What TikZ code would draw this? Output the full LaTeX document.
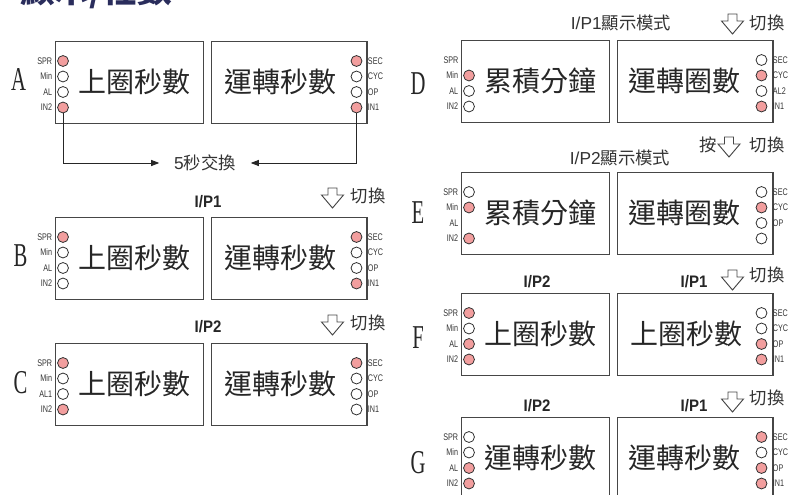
\documentclass[tikz,border=0pt]{standalone}
\usepackage{fontspec}
\usetikzlibrary{arrows.meta}
\newfontfamily\cjk{Noto Sans CJK TC}
\newfontfamily\latinsans{Liberation Sans}
\newfontfamily\ledfont{Liberation Sans}[FakeStretch=0.75]
\newfontfamily\ipfont{Liberation Sans}[FakeStretch=0.9]
\newfontfamily\rowfont{Liberation Serif}[FakeStretch=0.62]
\definecolor{ledred}{RGB}{242,158,158}
\definecolor{boxgray}{RGB}{70,70,70}
\definecolor{titlenavy}{RGB}{42,45,92}
\tikzset{
  panel/.style={draw=boxgray,line width=1pt,anchor=north west,inner sep=0,minimum height=61.5pt},
  narrowpanel/.style={panel,minimum width=111pt},
  widepanel/.style={panel,minimum width=116.5pt},
  led/.style={circle,draw=black!80,line width=0.6pt,fill=white,minimum size=8.2pt,inner sep=0},
  ledon/.style={led,fill=ledred},
  lbl/.style={font=\ledfont\fontsize{7.2}{8}\selectfont,text=black!80,inner sep=0},
  tagl/.style={label={[lbl,label distance=3.6pt]left:#1}},
  tagr/.style={label={[lbl,label distance=4pt]right:#1}},
  big/.style={font=\cjk\fontsize{21}{21}\selectfont,text=black!85,inner sep=0},
  head/.style={font=\cjk\fontsize{13}{13}\selectfont,text=black!80,inner sep=0},
  ip/.style={font=\ipfont\bfseries\fontsize{12.5}{12.5}\selectfont,text=black!85,inner sep=0},
  rowletter/.style={font=\rowfont\fontsize{25}{25}\selectfont,text=black!85,inner sep=0},
  wire/.style={draw=black!85,line width=0.7pt},
  pics/swapdown/.style={code={
    \draw[boxgray,line width=0.7pt,fill=white] (-4.5,0) -- (4.5,0) -- (4.5,-7) -- (11,-7) -- (0,-20) -- (-11,-7) -- (-4.5,-7) -- cycle;}}
}
\begin{document}
\begin{tikzpicture}[x=0.75pt,y=0.75pt,yscale=-1,xscale=1]
\useasboundingbox (0,0) rectangle (789,495);
\clip (0,0) rectangle (789,495);

% Title (cut by the page edge)
\node[font=\cjk\bfseries\fontsize{26}{26}\selectfont,text=titlenavy,anchor=base west,inner sep=0] (title) at (20,3) {顯示/程數};

%Shape: Panels, left column
\node[narrowpanel] (A1) at (55,41) {};
\node[widepanel] (A2) at (211,41) {};
\node[narrowpanel] (B1) at (55,217) {};
\node[widepanel] (B2) at (211,217) {};
\node[narrowpanel] (C1) at (55,343) {};
\node[widepanel] (C2) at (211,343) {};
%Shape: Panels, right column
\node[narrowpanel] (D1) at (461,40) {};
\node[widepanel] (D2) at (617,40) {};
\node[narrowpanel] (E1) at (461,172) {};
\node[widepanel] (E2) at (617,172) {};
\node[narrowpanel] (F1) at (461,293) {};
\node[widepanel] (F2) at (617,293) {};
\node[narrowpanel] (G1) at (461,417) {};
\node[widepanel] (G2) at (617,417) {};

% Row letters
\node[rowletter] (rowA) at (18.5,80) {A};
\node[rowletter] (rowB) at (20.5,256) {B};
\node[rowletter] (rowC) at (20.5,383) {C};
\node[rowletter] (rowD) at (418,84) {D};
\node[rowletter] (rowE) at (418,213) {E};
\node[rowletter] (rowF) at (418,338) {F};
\node[rowletter] (rowG) at (418,463) {G};

% Display texts
\node[big] (A1txt) at (134,81.5) {上圈秒數};
\node[big] (A2txt) at (280,81.5) {運轉秒數};
\node[big] (B1txt) at (134,257.5) {上圈秒數};
\node[big] (B2txt) at (280,257.5) {運轉秒數};
\node[big] (C1txt) at (134,383.5) {上圈秒數};
\node[big] (C2txt) at (280,383.5) {運轉秒數};
\node[big] (D1txt) at (540,80.5) {累積分鐘};
\node[big] (D2txt) at (684,80.5) {運轉圈數};
\node[big] (E1txt) at (540,212.5) {累積分鐘};
\node[big] (E2txt) at (684,212.5) {運轉圈數};
\node[big] (F1txt) at (540,333.5) {上圈秒數};
\node[big] (F2txt) at (686,333.5) {上圈秒數};
\node[big] (G1txt) at (540,457.5) {運轉秒數};
\node[big] (G2txt) at (684,457.5) {運轉秒數};

%Shape: LEDs A
\node[ledon,tagl=SPR] (A1spr) at (63,61) {};
\node[led,tagl=Min] (A1min) at (63,76.5) {};
\node[led,tagl=AL] (A1al) at (63,92) {};
\node[ledon,tagl=IN2] (A1in2) at (63,107.5) {};
\node[ledon,tagr=SEC] (A2sec) at (356.5,61) {};
\node[led,tagr=CYC] (A2cyc) at (356.5,76.5) {};
\node[led,tagr=OP] (A2op) at (356.5,92) {};
\node[ledon,tagr=IN1] (A2in1) at (356.5,107.5) {};
%Shape: LEDs B
\node[ledon,tagl=SPR] (B1spr) at (63,237) {};
\node[led,tagl=Min] (B1min) at (63,252.5) {};
\node[led,tagl=AL] (B1al) at (63,268) {};
\node[led,tagl=IN2] (B1in2) at (63,283.5) {};
\node[ledon,tagr=SEC] (B2sec) at (356.5,237) {};
\node[led,tagr=CYC] (B2cyc) at (356.5,252.5) {};
\node[led,tagr=OP] (B2op) at (356.5,268) {};
\node[ledon,tagr=IN1] (B2in1) at (356.5,283.5) {};
%Shape: LEDs C
\node[ledon,tagl=SPR] (C1spr) at (63,363) {};
\node[led,tagl=Min] (C1min) at (63,378.5) {};
\node[led,tagl=AL1] (C1al) at (63,394) {};
\node[ledon,tagl=IN2] (C1in2) at (63,409.5) {};
\node[ledon,tagr=SEC] (C2sec) at (356.5,363) {};
\node[led,tagr=CYC] (C2cyc) at (356.5,378.5) {};
\node[led,tagr=OP] (C2op) at (356.5,394) {};
\node[led,tagr=IN1] (C2in1) at (356.5,409.5) {};
%Shape: LEDs D
\node[lbl,anchor=east] (D1spr) at (458.7,60) {SPR};
\node[ledon,tagl=Min] (D1min) at (469,75.5) {};
\node[led,tagl=AL] (D1al) at (469,91) {};
\node[led,tagl=IN2] (D1in2) at (469,106.5) {};
\node[led,tagr=SEC] (D2sec) at (761.5,60) {};
\node[ledon,tagr=CYC] (D2cyc) at (761.5,75.5) {};
\node[led,tagr=AL2] (D2al) at (761.5,91) {};
\node[ledon,tagr=IN1] (D2in1) at (761.5,106.5) {};
%Shape: LEDs E
\node[led,tagl=SPR] (E1spr) at (469,192) {};
\node[ledon,tagl=Min] (E1min) at (469,207.5) {};
\node[lbl,anchor=east] (E1al) at (458.7,223) {AL};
\node[ledon,tagl=IN2] (E1in2) at (469,238.5) {};
\node[led,tagr=SEC] (E2sec) at (761.5,192) {};
\node[ledon,tagr=CYC] (E2cyc) at (761.5,207.5) {};
\node[led,tagr=OP] (E2op) at (761.5,223) {};
\node[led] (E2in1) at (761.5,238.5) {};
%Shape: LEDs F
\node[ledon,tagl=SPR] (F1spr) at (469,313) {};
\node[led,tagl=Min] (F1min) at (469,328.5) {};
\node[ledon,tagl=AL] (F1al) at (469,344) {};
\node[ledon,tagl=IN2] (F1in2) at (469,359.5) {};
\node[led,tagr=SEC] (F2sec) at (761.5,313) {};
\node[led,tagr=CYC] (F2cyc) at (761.5,328.5) {};
\node[ledon,tagr=OP] (F2op) at (761.5,344) {};
\node[ledon,tagr=IN1] (F2in1) at (761.5,359.5) {};
%Shape: LEDs G
\node[led,tagl=SPR] (G1spr) at (469,437) {};
\node[led,tagl=Min] (G1min) at (469,452.5) {};
\node[ledon,tagl=AL] (G1al) at (469,468) {};
\node[ledon,tagl=IN2] (G1in2) at (469,483.5) {};
\node[ledon,tagr=SEC] (G2sec) at (761.5,437) {};
\node[led,tagr=CYC] (G2cyc) at (761.5,452.5) {};
\node[ledon,tagr=OP] (G2op) at (761.5,468) {};
\node[ledon,tagr=IN1] (G2in1) at (761.5,483.5) {};

% Text Node: 5 second swap
\node[head] (swap) at (205,163) {{\latinsans 5}秒交換};
\draw[wire,-{Triangle[length=6pt,width=4.5pt]},shorten >=11pt] (A1in2) |- (swap);
\draw[wire,-{Triangle[length=6pt,width=4.5pt]},shorten >=11pt] (A2in1) |- (swap);

% Text Node: headers B, C
\node[ip] (B0ip) at (208,202) {I/P1};
\pic at (332.5,188) {swapdown};
\node[head] (B0sw) at (368,196) {切換};
\node[ip] (C0ip) at (208,327) {I/P2};
\pic at (332.5,315) {swapdown};
\node[head] (C0sw) at (368,323) {切換};
% Text Node: headers D, E
\node[head] (D0mode) at (621,23) {{\latinsans I/P1}顯示模式};
\pic at (732.5,14) {swapdown};
\node[head] (D0sw) at (767,23) {切換};
\node[head] (E0press) at (708,145) {按};
\pic at (729,137) {swapdown};
\node[head] (E0sw) at (767,145) {切換};
\node[head] (E0mode) at (620,158) {{\latinsans I/P2}顯示模式};
% Text Node: headers F, G
\node[ip] (F1ip) at (537,282) {I/P2};
\node[ip] (F2ip) at (694,282) {I/P1};
\pic at (732.5,270) {swapdown};
\node[head] (F0sw) at (767,275) {切換};
\node[ip] (G1ip) at (537,406) {I/P2};
\node[ip] (G2ip) at (694,406) {I/P1};
\pic at (732.5,392) {swapdown};
\node[head] (G0sw) at (767,398) {切換};

\end{tikzpicture}
\end{document}
